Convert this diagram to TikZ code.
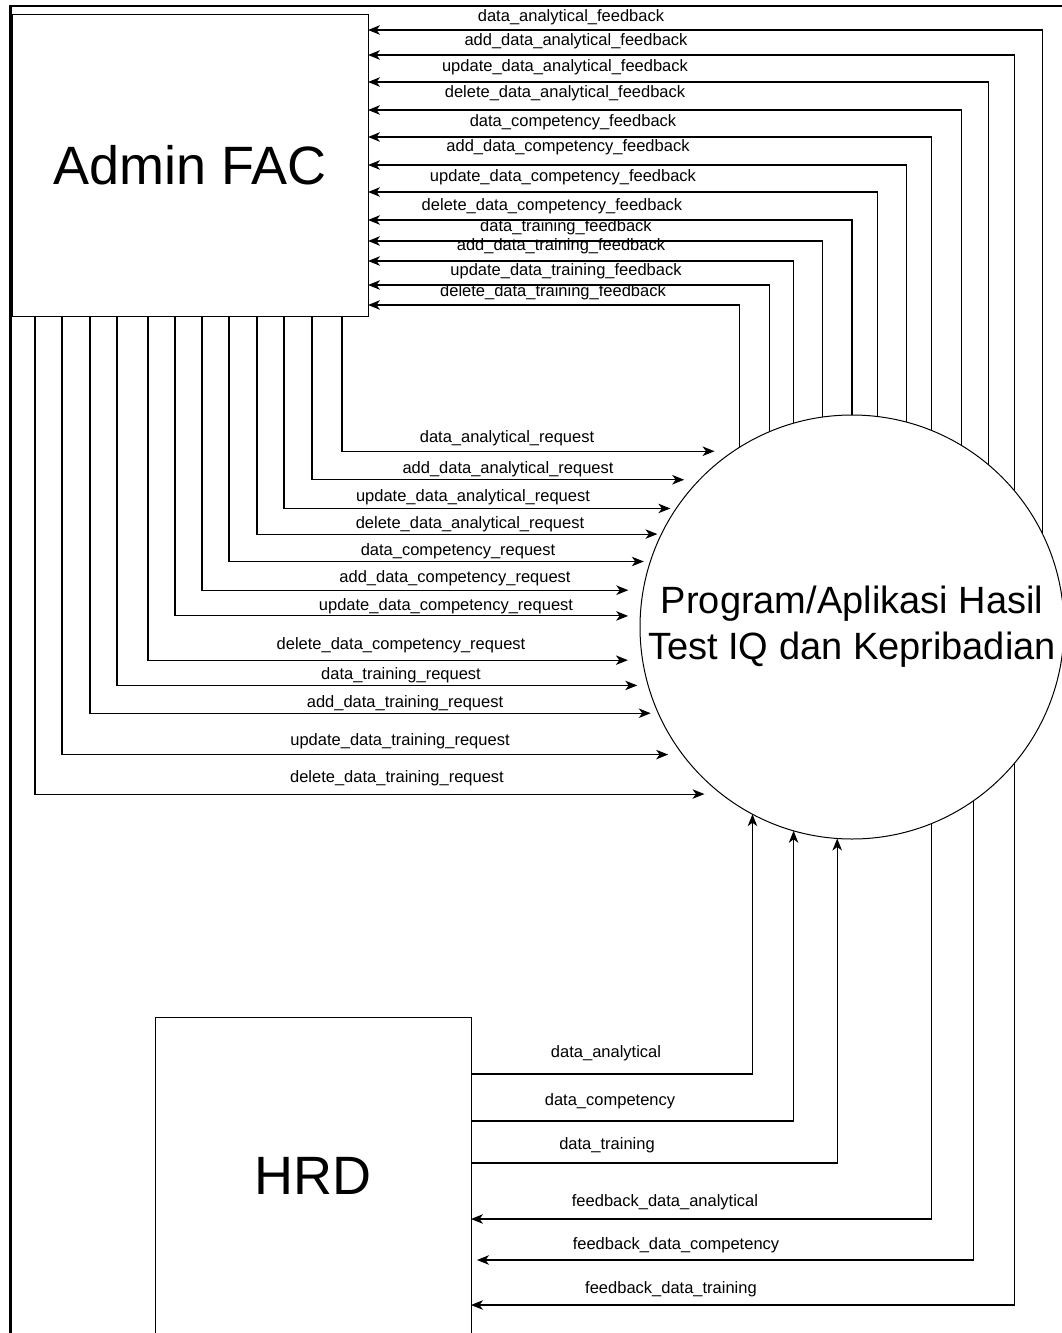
\documentclass[tikz,border=0pt]{standalone}
\usepackage{fontspec}
\setmainfont{Liberation Sans}
\usetikzlibrary{arrows.meta}

\tikzset{
  entity/.style={draw, rectangle, line width=1pt, inner sep=0pt, outer sep=0pt},
  process/.style={draw, circle, line width=1pt, inner sep=0pt, outer sep=0pt, align=center},
  flow/.style={line width=1.1pt, -{Stealth[length=12pt,width=9.5pt,inset=3.5pt]}},
  lbl/.style={inner sep=0pt, font=\fontsize{16.5}{18}\selectfont},
}

\begin{document}
\begin{tikzpicture}[x=1pt,y=-1pt]
   \clip (0,0) rectangle (1062,1333); % page
   \draw [line width=2.5pt] (1080,6) -- (10.5,6) -- (10.5,1345); % outer frame
   \node [entity, minimum width=356, minimum height=302, font=\fontsize{54}{60}\selectfont] (admin) at (190,165) {Admin FAC}; % external entity
   \node [entity, minimum width=316, minimum height=318, font=\fontsize{54}{60}\selectfont] (hrd) at (313,1176) {HRD}; % external entity
   \node [process, minimum size=424, font=\fontsize{38}{46}\selectfont] (prog) at (852,627) {Program/Aplikasi Hasil\\Test IQ dan Kepribadian}; % process
   % feedback to Admin FAC
   \foreach \x/\y/\lx/\ly/\txt [count=\i] in {
      1041/30/571/17/data\_analytical\_feedback,
      1013.5/55/576/41/add\_data\_analytical\_feedback,
      986/82/565/67/update\_data\_analytical\_feedback,
      958.5/110/565/93/delete\_data\_analytical\_feedback,
      931/137/573/122/data\_competency\_feedback,
      903.5/165/568/147/add\_data\_competency\_feedback,
      876/192/563/177/update\_data\_competency\_feedback,
      848.5/220/552/206/delete\_data\_competency\_feedback,
      821/241/566/227/data\_training\_feedback,
      793.5/261/561/246/add\_data\_training\_feedback,
      766/285/566/271/update\_data\_training\_feedback,
      738.5/305/553/292/delete\_data\_training\_feedback}{
      \pgfmathsetmacro\ang{acos((\x-852)/212)}
      \draw [flow] (prog.\ang) |- (admin.east |- 0,\y);
      \node [lbl] (fb\i) at (\lx,\ly) {\txt};
   }
   % requests from Admin FAC
   \foreach \sx/\y/\tx/\lx/\ly/\txt [count=\i] in {
      342/453/712/507/438/data\_analytical\_request,
      312/481/683/508/469/add\_data\_analytical\_request,
      284/509/670/473/497/update\_data\_analytical\_request,
      257/537/656/470/524/delete\_data\_analytical\_request,
      229/564/643/458/551/data\_competency\_request,
      202/592/628/455/578/add\_data\_competency\_request,
      175/619/628/446/606/update\_data\_competency\_request,
      148/661/628/401/645/delete\_data\_competency\_request,
      117/688/638/401/675/data\_training\_request,
      90/716/652/405/703/add\_data\_training\_request,
      62/757/670/400/741/update\_data\_training\_request,
      35/796/707/397/778/delete\_data\_training\_request}{
      \pgfmathsetmacro\ang{180-asin((627-\y)/212)}
      \pgfmathsetmacro\gap{852-212*cos(asin((627-\y)/212))-\tx}
      \draw [flow, shorten >=\gap pt] (admin.south -| \sx,0) |- (prog.\ang);
      \node [lbl] (rq\i) at (\lx,\ly) {\txt};
   }
   % data from HRD
   \foreach \y/\x/\lx/\ly/\txt [count=\i] in {
      1074/752/606/1053/data\_analytical,
      1121/793/610/1101/data\_competency,
      1163/834/607/1145/data\_training}{
      \pgfmathsetmacro\ang{-acos((\x-852)/212)}
      \draw [flow] (hrd.east |- 0,\y) -| (prog.\ang);
      \node [lbl] (hd\i) at (\lx,\ly) {\txt};
   }
   % feedback to HRD
   \foreach \x/\y/\lx/\ly/\gap/\txt [count=\i] in {
      930/1219/665/1202/0/feedback\_data\_analytical,
      971/1260/676/1245/6/feedback\_data\_competency,
      1012/1305/671/1289/0/feedback\_data\_training}{
      \pgfmathsetmacro\ang{-acos((\x-852)/212)}
      \draw [flow, shorten >=\gap pt] (prog.\ang) |- (hrd.east |- 0,\y);
      \node [lbl] (hf\i) at (\lx,\ly) {\txt};
   }
\end{tikzpicture}
\end{document}
